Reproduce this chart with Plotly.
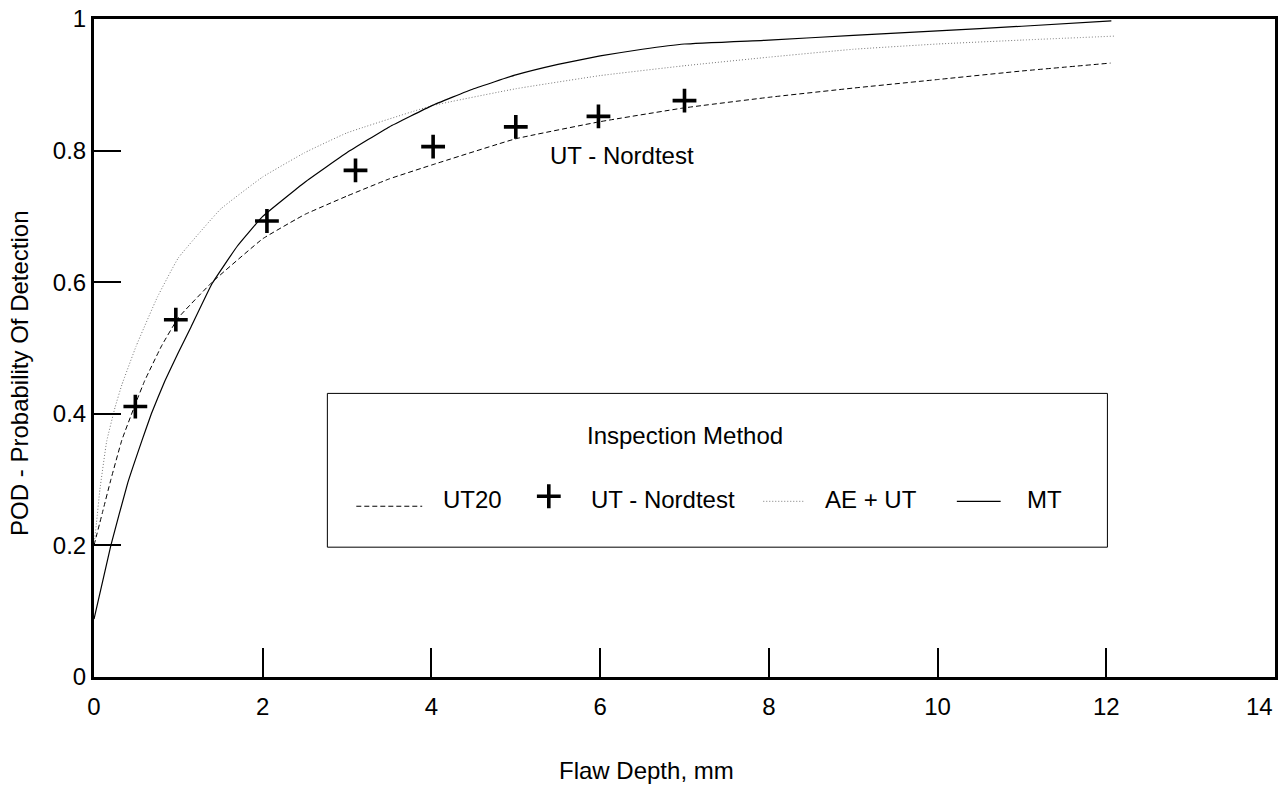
import plotly.graph_objects as go

# ---- data ----
ut20_x = [0, 0.1, 0.2, 0.33, 0.5, 0.6, 0.8, 1.0, 1.4, 2.0, 2.5, 3.0, 3.5, 4.0, 5.0, 6.0, 7.0, 8.0, 9.0, 10.0, 11.0, 12.05]
ut20_y = [0.20, 0.25, 0.30, 0.36, 0.418, 0.45, 0.503, 0.546, 0.60, 0.666, 0.703, 0.731, 0.757, 0.778, 0.818, 0.844, 0.865, 0.881, 0.895, 0.908, 0.921, 0.933]

aeut_x = [0, 0.03, 0.07, 0.15, 0.25, 0.33, 0.5, 0.75, 1.0, 1.5, 2.0, 2.5, 3.0, 4.0, 5.0, 6.0, 7.0, 8.0, 9.0, 10.0, 11.0, 12.1]
aeut_y = [0.20, 0.235, 0.285, 0.358, 0.41, 0.444, 0.503, 0.577, 0.637, 0.711, 0.76, 0.797, 0.827, 0.868, 0.894, 0.914, 0.929, 0.942, 0.954, 0.962, 0.968, 0.974]

mt_x = [0, 0.2, 0.4, 0.57, 0.68, 0.84, 1.0, 1.15, 1.4, 1.7, 2.0, 2.5, 3.0, 3.5, 4.0, 4.5, 5.0, 5.5, 6.0, 6.5, 7.0, 8.0, 9.0, 10.0, 11.0, 12.06]
mt_y = [0.088, 0.20, 0.295, 0.36, 0.40, 0.45, 0.493, 0.532, 0.598, 0.655, 0.70, 0.752, 0.797, 0.836, 0.868, 0.894, 0.915, 0.931, 0.944, 0.954, 0.962, 0.968, 0.975, 0.982, 0.989, 0.997]

nord_x = [0.49, 0.97, 2.05, 3.1, 4.02, 5.0, 5.98, 7.0]
nord_y = [0.411, 0.543, 0.693, 0.770, 0.806, 0.836, 0.852, 0.876]

x_ticks = [0, 2, 4, 6, 8, 10, 12, 14]
y_ticks = [0, 0.2, 0.4, 0.6, 0.8, 1]
y_ticktext = ["0", "0.2", "0.4", "0.6", "0.8", "1"]

FONT = "Arial, 'Liberation Sans', sans-serif"
FS = 24

fig = go.Figure()
fig.add_trace(go.Scatter(x=ut20_x, y=ut20_y, mode="lines", name="UT20",
                         line=dict(color="black", width=1, dash="5px,3px", shape="spline", smoothing=0.3)))
fig.add_trace(go.Scatter(x=aeut_x, y=aeut_y, mode="lines", name="AE + UT",
                         line=dict(color="#777777", width=1, dash="1px,2px", shape="spline", smoothing=0.3)))
fig.add_trace(go.Scatter(x=mt_x, y=mt_y, mode="lines", name="MT",
                         line=dict(color="black", width=1.2, shape="spline", smoothing=0.3)))
fig.add_trace(go.Scatter(x=nord_x, y=nord_y, mode="markers", name="UT - Nordtest",
                         marker=dict(symbol="cross-thin", size=17, line=dict(color="black", width=3.6))))

# legend key marker on an overlay axis with 0..1 coordinates
fig.add_trace(go.Scatter(x=[0.3851], y=[0.2747], mode="markers", xaxis="x2", yaxis="y2",
                         marker=dict(symbol="cross-thin", size=17, line=dict(color="black", width=3.6)),
                         hoverinfo="skip"))

fig.update_layout(
    width=1283, height=786,
    margin=dict(l=94, r=5, t=18, b=109),
    paper_bgcolor="white", plot_bgcolor="white",
    showlegend=False,
    font=dict(family=FONT, size=FS, color="black"),
    xaxis=dict(range=[0, 14], tickvals=x_ticks, ticktext=[str(v) if v != 14 else "" for v in x_ticks],
               ticks="inside", ticklen=29, tickwidth=1.5, tickcolor="black", ticklabelstandoff=6,
               showline=True, linewidth=3, linecolor="black", mirror=True,
               showgrid=False, zeroline=False, tickfont=dict(size=FS)),
    yaxis=dict(range=[0, 1], tickvals=y_ticks, ticktext=y_ticktext,
               ticks="inside", ticklen=27, tickwidth=1.5, tickcolor="black",
               showline=True, linewidth=3, linecolor="black", mirror=True,
               showgrid=False, zeroline=False, tickfont=dict(size=FS)),
    xaxis2=dict(range=[0, 1], overlaying="x", visible=False),
    yaxis2=dict(range=[0, 1], overlaying="y", visible=False),
)

shapes = []
# legend box
shapes.append(dict(type="rect", xref="paper", yref="paper", x0=0.1976, x1=0.8581, y0=0.1973, y1=0.431,
                   line=dict(color="black", width=1), fillcolor="white", layer="below"))
# legend line samples
shapes.append(dict(type="line", xref="paper", yref="paper", x0=0.2221, x1=0.2779, y0=0.2595, y1=0.2595,
                   line=dict(color="black", width=1, dash="5px,3px")))
shapes.append(dict(type="line", xref="paper", yref="paper", x0=0.5667, x1=0.6022, y0=0.267, y1=0.267,
                   line=dict(color="#777777", width=1, dash="1px,2px")))
shapes.append(dict(type="line", xref="paper", yref="paper", x0=0.7306, x1=0.7677, y0=0.267, y1=0.267,
                   line=dict(color="black", width=1.2)))
fig.update_layout(shapes=shapes)

ann = []
ann.append(dict(text="Inspection Method", xref="paper", yref="paper", x=0.5008, y=0.367,
                xanchor="center", yanchor="middle", showarrow=False))
for txt, xp in [("UT20", 0.2939), ("UT - Nordtest", 0.4189), ("AE + UT", 0.6174), ("MT", 0.788)]:
    ann.append(dict(text=txt, xref="paper", yref="paper", x=xp, y=0.270,
                    xanchor="left", yanchor="middle", showarrow=False))
# in-plot label
ann.append(dict(text="UT - Nordtest", xref="x", yref="y", x=6.255, y=0.792,
                xanchor="center", yanchor="middle", showarrow=False))
# axis titles
ann.append(dict(text="Flaw Depth, mm", xref="paper", yref="paper", x=0.468, y=-0.1426,
                xanchor="center", yanchor="middle", showarrow=False))
ann.append(dict(text="POD - Probability Of Detection", xref="paper", yref="paper", x=-0.0633, y=0.461,
                xanchor="center", yanchor="middle", textangle=-90, showarrow=False))
# last x tick label kept inside the page
ann.append(dict(text="14", xref="paper", yref="paper", x=1.0, y=-0.0455,
                xanchor="right", yanchor="middle", showarrow=False))
fig.update_layout(annotations=ann)

fig.write_html("out.html")
